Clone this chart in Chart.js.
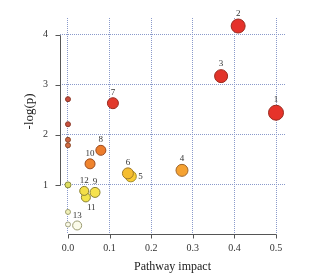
<!DOCTYPE html>
<html><head><meta charset="utf-8">
<script src="https://cdn.jsdelivr.net/npm/chart.js@4"></script>
<style>html,body{margin:0;padding:0;background:#fff}#w{width:321px;height:279px}</style>
</head><body><div id="w"><canvas id="c"></canvas></div>
<script>
const impact = [0.500,0.409,0.368,0.274,0.151,0.144,0.108,0.079,0.065,0.053,0.043,0.039,0.022,0,0,0,0,0,0,0];
const logp   = [2.44,4.17,3.17,1.29,1.17,1.23,2.63,1.69,0.85,1.42,0.75,0.88,0.19,2.71,2.21,1.90,1.79,1.00,0.46,0.21];
const labels = ['1','2','3','4','5','6','7','8','9','10','11','12','13','','','','','','',''];
const sizes  = [7.5,7,6.5,6,5.5,5.5,5.5,5,5,5,4.5,4.5,4.5,2.5,2.5,2.5,2.5,3,2.5,2.5];
const fills  = ['#e6332a','#e5312a','#e2342a','#f5a232','#f9cc34','#f5bd30','#e23a2c','#ec7c2c','#f6e24c','#ef842e','#f2e44a','#f3de48','#fbfbea','#c94a3c','#c9503e','#d06442','#d26c42','#dede62','#f1f1b8','#f8f8e4'];
const strokes= ['#9a2a1e','#9a2a1e','#9a2a1e','#a0662a','#a08a2a','#a07a2a','#9a2a1e','#9a4a1e','#8a8030','#9a4a1e','#8a8030','#8a8030','#9a9a70','#8a3a2a','#8a3a2a','#8a4a2a','#8a4a2a','#8a8a3a','#a0a070','#a0a080'];
const placement = ['above','above','above','above','right','above','above','above','above','above','below','above','above','','','','','','',''];
const xTicks = [0,0.1,0.2,0.3,0.4,0.5];
const yTicks = [1,2,3,4];

const points = impact.map((x,i)=>({x:x,y:logp[i],r:sizes[i]}));

const serif = "'Liberation Serif','DejaVu Serif',serif";

const rAxes = {
  id:'rAxes',
  afterDraw(chart){
    const ctx = chart.ctx, xs = chart.scales.x, ys = chart.scales.y, ca = chart.chartArea;
    ctx.save();
    ctx.strokeStyle = '#555'; ctx.lineWidth = 1;
    const xl = ca.left + 0.5;
    ctx.beginPath();
    ctx.moveTo(xl, Math.round(ys.getPixelForValue(yTicks[0]))+0.5);
    ctx.lineTo(xl, Math.round(ys.getPixelForValue(yTicks[yTicks.length-1]))+0.5);
    yTicks.forEach(v=>{const p=Math.round(ys.getPixelForValue(v))+0.5; ctx.moveTo(xl-5,p); ctx.lineTo(xl,p);});
    const yb = ca.bottom + 0.5;
    ctx.moveTo(Math.round(xs.getPixelForValue(xTicks[0]))+0.5, yb);
    ctx.lineTo(Math.round(xs.getPixelForValue(xTicks[xTicks.length-1]))+0.5, yb);
    xTicks.forEach(v=>{const p=Math.round(xs.getPixelForValue(v))+0.5; ctx.moveTo(p,yb); ctx.lineTo(p,yb+4);});
    ctx.stroke();
    ctx.fillStyle = '#333';
    ctx.font = '9px ' + serif;
    labels.forEach((t,i)=>{
      if(!t) return;
      const px = xs.getPixelForValue(impact[i]), py = ys.getPixelForValue(logp[i]);
      const r = sizes[i];
      if(placement[i]==='right'){ctx.textAlign='left';ctx.textBaseline='middle';ctx.fillText(t,px+r+2,py);}
      else if(placement[i]==='below'){ctx.textAlign='left';ctx.textBaseline='top';ctx.fillText(t,px+1,py+r+1);}
      else {ctx.textAlign='center';ctx.textBaseline='bottom';ctx.fillText(t,px,py-r-1);}
    });
    ctx.restore();
  }
};

new Chart(document.getElementById('c'), {
  type:'bubble',
  data:{datasets:[{data:points, backgroundColor:fills, borderColor:strokes, borderWidth:1, hoverRadius:0}]},
  options:{
    responsive:true, maintainAspectRatio:false, animation:false,
    layout:{padding:{top:10,right:36,left:0,bottom:0}},
    plugins:{legend:{display:false},tooltip:{enabled:false}},
    scales:{
      x:{type:'linear', min:-0.0192, max:0.5216,
        afterBuildTicks:s=>{s.ticks=xTicks.map(v=>({value:v}));},
        afterFit:s=>{s.height=45;},
        grid:{color:'#8a9acb', lineWidth:1, drawTicks:false},
        border:{display:false, dash:[1,1]},
        ticks:{padding:8, color:'#333', font:{family:serif,size:10}, callback:v=>v.toFixed(1), maxRotation:0},
        title:{display:true, text:'Pathway impact', color:'#222', font:{family:serif,size:12}, padding:{top:0,bottom:5}}
      },
      y:{type:'linear', min:0.02, max:4.33,
        afterBuildTicks:s=>{s.ticks=yTicks.map(v=>({value:v}));},
        afterFit:s=>{s.width=60;},
        grid:{color:'#8a9acb', lineWidth:1, drawTicks:false},
        border:{display:false, dash:[1,1]},
        ticks:{padding:12, color:'#333', font:{family:serif,size:10}, callback:v=>String(v)},
        title:{display:true, text:'         -log(p)', color:'#222', font:{family:serif,size:13}, padding:{top:22,bottom:0}}
      }
    }
  },
  plugins:[rAxes]
});
</script></body></html>
